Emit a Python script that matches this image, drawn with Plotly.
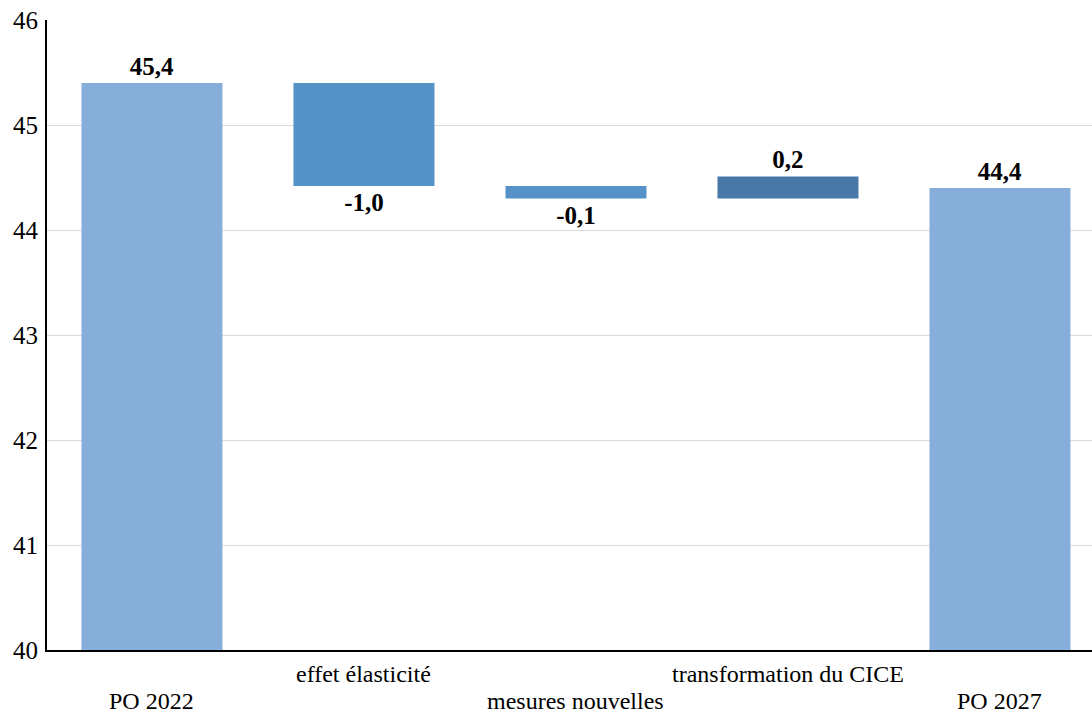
import plotly.graph_objects as go

# Décomposition de l'évolution du taux de prélèvements obligatoires (en points de PIB)
categories = ["PO 2022", "effet élasticité", "mesures nouvelles", "transformation du CICE", "PO 2027"]
measures = ["absolute", "relative", "relative", "relative", "absolute"]
values = [45.4, -0.98, -0.12, 0.21, 44.4]
label_row = [1, 0, 1, 0, 1]  # 0 = upper row, 1 = lower row for staggered category labels

y_ticks = [40, 41, 42, 43, 44, 45, 46]

FONT = "Liberation Serif"


def fmt(v):
    return f"{v:.1f}".replace(".", ",")


fig = go.Figure(
    go.Waterfall(
        x=categories,
        y=values,
        measure=measures,
        text=[f"<b>{fmt(v)}</b>" for v in values],
        textposition="outside",
        textfont=dict(family=FONT, size=25, color="#000000"),
        cliponaxis=False,
        width=0.665,
        connector=dict(visible=False),
        totals=dict(marker=dict(color="#85AEDB")),
        decreasing=dict(marker=dict(color="#5592C8")),
        increasing=dict(marker=dict(color="#4878A8")),
        hoverinfo="skip",
    )
)

annotations = []
for cat, row in zip(categories, label_row):
    annotations.append(
        dict(
            x=cat,
            y=0,
            xref="x",
            yref="paper",
            text=cat,
            showarrow=False,
            xanchor="center",
            yanchor="top",
            yshift=-9 if row == 0 else -36,
            font=dict(family=FONT, size=24, color="#000000"),
        )
    )

fig.update_layout(
    width=1092,
    height=713,
    margin=dict(l=47, r=0, t=20, b=63),
    paper_bgcolor="white",
    plot_bgcolor="white",
    showlegend=False,
    annotations=annotations,
    font=dict(family=FONT, size=24, color="#000000"),
    xaxis=dict(
        type="category",
        range=[-0.495, 4.434],
        showticklabels=False,
        showgrid=False,
        showline=True,
        linecolor="#000000",
        linewidth=2,
        ticks="",
    ),
    yaxis=dict(
        range=[40, 46],
        tickvals=y_ticks,
        ticktext=[str(t) for t in y_ticks],
        showgrid=True,
        gridcolor="#D9D9D9",
        gridwidth=1,
        showline=True,
        linecolor="#000000",
        linewidth=2,
        ticks="",
        ticklabelstandoff=2,
        tickfont=dict(family=FONT, size=25, color="#000000"),
        zeroline=False,
    ),
)

fig.write_html("out.html")
